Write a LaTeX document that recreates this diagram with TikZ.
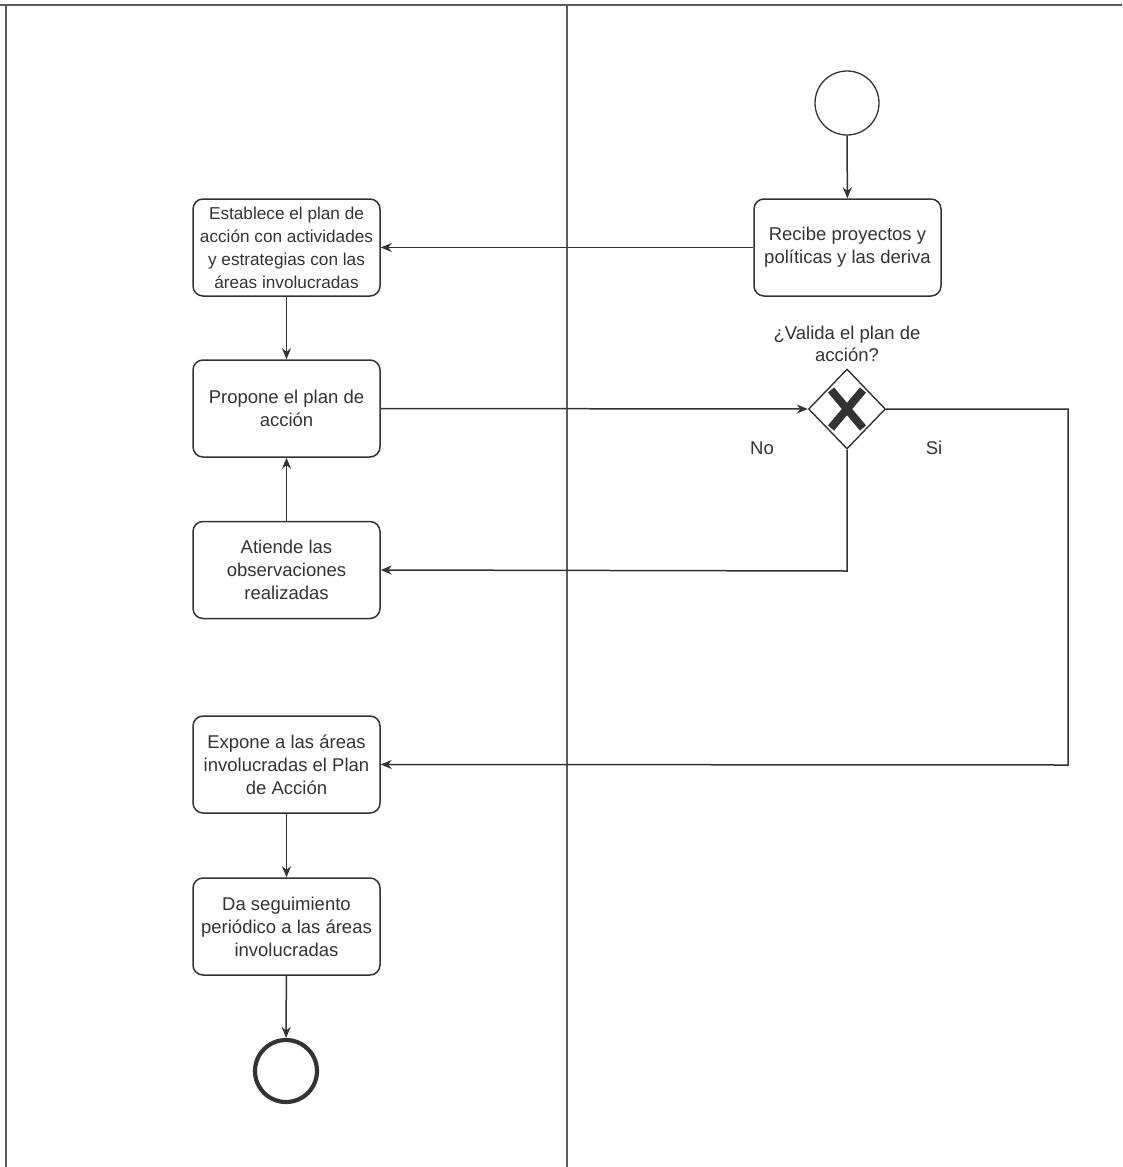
\documentclass[tikz,border=0pt]{standalone}
\usepackage{fontspec}
\setmainfont{Liberation Sans}
\usetikzlibrary{arrows.meta,shapes.geometric}
\definecolor{ln}{HTML}{333333}
\tikzset{
  x=1pt,y=-1pt,
  task/.style={draw=ln,line width=1.5pt,rounded corners=10pt,minimum width=187pt,minimum height=97pt,align=center,text=ln,font=\fontsize{18.5}{23}\selectfont,inner sep=1pt},
  smalltask/.style={task,font=\fontsize{17.2}{23}\selectfont},
  flow/.style={draw=ln,line width=1.5pt,-{Stealth[length=11pt,width=9pt]}},
  frame/.style={draw=ln!80,line width=1.6pt},
  lbl/.style={text=ln,font=\fontsize{18.5}{22}\selectfont,align=center}
}
\begin{document}
\begin{tikzpicture}
\useasboundingbox (0,0) rectangle (1122,1167);
% frame
\coordinate (tl) at (0,5); \coordinate (tr) at (1122,5);
\coordinate (lt) at (6,5); \coordinate (lb) at (6,1167);
\coordinate (mt) at (567,5); \coordinate (mb) at (567,1167);
\draw[frame] (tl) -- (tr);
\draw[frame] (lt) -- (lb);
\draw[frame] (mt) -- (mb);
% nodes
\node[circle,draw=ln,line width=1.3pt,minimum size=64pt] (start) at (847,103) {};
\node[task] (recibe) at (847.5,247.5) {Recibe proyectos y\\políticas y las deriva};
\node[smalltask] (establece) at (286.5,247.5) {Establece el plan de\\acción con actividades\\y estrategias con las\\áreas involucradas};
\node[task] (propone) at (286.5,408.5) {Propone el plan de\\acción};
\node[task] (atiende) at (286.5,570) {Atiende las\\observaciones\\realizadas};
\node[task] (expone) at (286.5,764.5) {Expone a las áreas\\involucradas el Plan\\de Acción};
\node[task] (da) at (286.5,926.5) {Da seguimiento\\periódico a las áreas\\involucradas};
\node[circle,draw=ln,line width=4.2pt,minimum size=62pt] (fin) at (286,1071) {};
\node[diamond,draw=ln,line width=1.4pt,minimum width=77pt,minimum height=80pt,inner sep=0pt] (gw) at (847,409) {};
\draw[ln,line width=8pt] (gw.center) ++(-16,-19) coordinate (x1) -- ++(32,38) coordinate (x2);
\draw[ln,line width=8pt] (gw.center) ++(16,-19) coordinate (x3) -- ++(-32,38) coordinate (x4);
\node[lbl] (q) at (847,344) {¿Valida el plan de\\acción?};
\node[lbl] (no) at (762,448) {No};
\node[lbl] (si) at (934,448) {Si};
% connectors
\coordinate (c1) at (847,571);
\coordinate (c2) at (1068,409);
\coordinate (c3) at (1068,765);
\draw[flow] (start) -- (recibe);
\draw[flow] (recibe) -- (establece);
\draw[flow] (establece) -- (propone);
\draw[flow] (propone.east) -- (gw.west);
\draw[flow] (gw.south) -- (c1) -- (atiende.east);
\draw[flow] (atiende) -- (propone);
\draw[flow] (gw.east) -- (c2) -- (c3) -- (expone.east);
\draw[flow] (expone) -- (da);
\draw[flow] (da) -- (fin);
\end{tikzpicture}
\end{document}
